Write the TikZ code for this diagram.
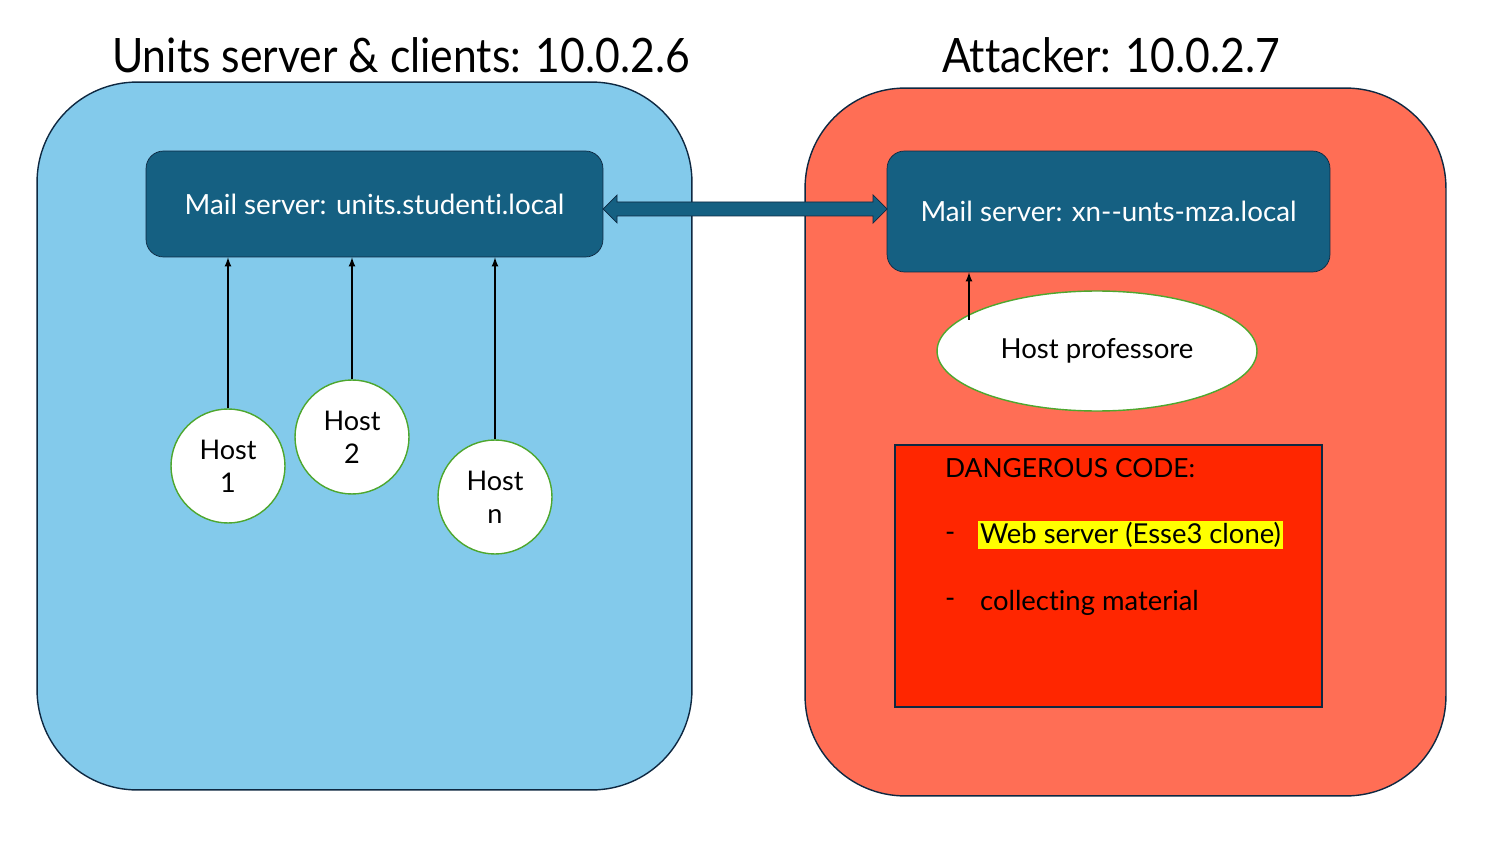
\documentclass[tikz,border=0pt]{standalone}
\usepackage{fontspec}
\setmainfont{Lato}[Ligatures=NoCommon]
\newfontfamily\titlefont[FakeStretch=0.9, Ligatures=NoCommon]{Lato}
\usetikzlibrary{arrows, calc, shapes.geometric, positioning}

\definecolor{lanblue}{HTML}{83CAEB}
\definecolor{attred}{HTML}{FF6E55}
\definecolor{mailteal}{HTML}{156082}
\definecolor{edgedark}{HTML}{0E2841}
\definecolor{hostgreen}{HTML}{4EA72E}
\definecolor{codered}{HTML}{FF2600}
\definecolor{marker}{HTML}{FFFF00}

\tikzset{
	panel/.style={draw=edgedark, thick, rounded corners=2cm, minimum height=14.16cm},
	title/.style={font=\titlefont\fontsize{27}{30}\selectfont},
	mail/.style={draw=edgedark, fill=mailteal, text=white, rounded corners=0.35cm, font=\fontsize{15.8}{18}\selectfont},
	host/.style={circle, draw=hostgreen, thick, fill=white, minimum size=2.28cm, align=center, font=\fontsize{15.4}{19}\selectfont},
	code/.style={anchor=west, font=\fontsize{15.6}{18}\selectfont, inner sep=1pt},
	up/.style={->, >=latex, thick}
}

\begin{document}
\begin{tikzpicture}[x=0.02cm, y=-0.02cm]
	\useasboundingbox (0,0) rectangle (1500,844);

	\node[panel, fill=lanblue, minimum width=13.1cm] 	(lan) 	at (364.5,436) {};
	\node[panel, fill=attred, minimum width=12.82cm] 	(att) 	at (1125.5,442) {};
	\node[title] (lanlabel) at (401,55) {Units server \& clients: 10.0.2.6};
	\node[title] (attlabel) at (1111,55) {Attacker: 10.0.2.7};

	\node[mail, minimum width=9.14cm, minimum height=2.12cm] 	(mailL) at (374.5,204) {Mail server: units.studenti.local};
	\node[mail, minimum width=8.86cm, minimum height=2.42cm] 	(mailR) at (1108.5,211.5) {Mail server: xn{-}{-}unts-mza.local};

	\node[host] (h1) at (228,466) {Host\\1};
	\node[host] (h2) at (352,437) {Host\\2};
	\node[host] (hn) at (495,497) {Host\\n};

	\node[ellipse, draw=hostgreen, thick, fill=white, minimum width=6.4cm, minimum height=2.4cm, font=\fontsize{15.7}{18}\selectfont] (hprof) at (1097,351) {Host professore};

	\node[draw=edgedark, thick, fill=codered, minimum width=8.54cm, minimum height=5.24cm] (danger) at (1108.5,576) {};
	\node[code, font=\fontsize{15}{18}\selectfont] (dtitle) at (943,468) {DANGEROUS CODE:};
	\node[code] (dash1) at (943,537) {-};
	\node[code, fill=marker] (web) at (978,535) {Web server (Esse3 clone)};
	\node[code] (dash2) at (943,603) {-};
	\node[code] (coll) at (978,603) {collecting material};

	% link between the two mail servers
	\coordinate (lnkL) at (603,209);
	\coordinate (lnkR) at (887,209);
	\draw[edgedark, fill=mailteal] (lnkL) -- ++(14,-14) -- ++(0,7) -- ($(lnkR)+(-14,-7)$) -- ++(0,-7) -- (lnkR)
		-- ++(-14,14) -- ++(0,-7) -- ($(lnkL)+(14,7)$) -- ++(0,7) -- cycle;

	\coordinate (hpfrom) at (969,320);
	\draw[up] (h1.north) -- (h1.north |- mailL.south);
	\draw[up] (h2.north) -- (h2.north |- mailL.south);
	\draw[up] (hn.north) -- (hn.north |- mailL.south);
	\draw[up] (hpfrom) -- (hpfrom |- mailR.south);
\end{tikzpicture}
\end{document}
